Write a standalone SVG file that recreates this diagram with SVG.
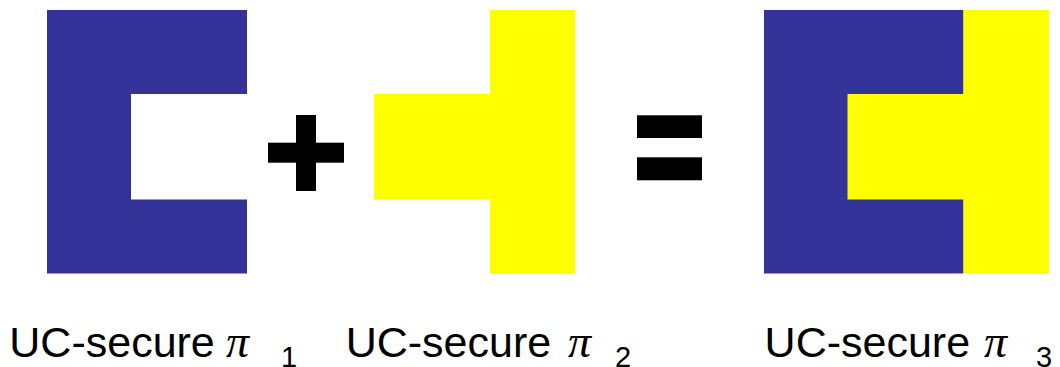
<svg xmlns="http://www.w3.org/2000/svg" width="1060" height="367" viewBox="0 0 1060 367">
<style>
.blue{fill:#333399}
.yel{fill:#ffff00}
.blk{fill:#000000}
.lbl{font-family:"Liberation Sans",Arial,sans-serif;font-size:43px;fill:#000}
.pi{font-family:"Liberation Serif","Times New Roman",serif;font-style:italic;font-size:46px}
.sub{font-family:"Liberation Sans",Arial,sans-serif;font-size:29px}
</style>
<rect width="1060" height="367" fill="#ffffff"/>
<g id="protocol1">
<path class="blue" d="M47,10 H247 V94 H131 V199.5 H247 V273.5 H47 Z"/>
</g>
<g id="plus">
<rect class="blk" x="296" y="115" width="20" height="76"/>
<rect class="blk" x="268" y="142.7" width="76" height="20"/>
</g>
<g id="protocol2">
<path class="yel" d="M490,10 H575 V273.5 H490 V199.5 H374 V94 H490 Z"/>
</g>
<g id="equals">
<rect class="blk" x="637" y="115.3" width="65" height="22.7"/>
<rect class="blk" x="637" y="157.3" width="65" height="23"/>
</g>
<g id="protocol3">
<rect class="blue" x="764" y="10" width="199.5" height="263.5"/>
<path class="yel" d="M963.5,10 H1049 V273.5 H963.5 V199.5 H847.5 V94 H963.5 Z"/>
</g>
<g id="labels">
<text class="lbl" x="9.3" y="356.5">UC-secure<tspan class="pi" x="226">π</tspan><tspan class="sub" x="281" y="367">1</tspan></text>
<text class="lbl" x="345.7" y="356.5">UC-secure<tspan class="pi" x="568">π</tspan><tspan class="sub" x="615" y="367">2</tspan></text>
<text class="lbl" x="764.6" y="356.5">UC-secure<tspan class="pi" x="984">π</tspan><tspan class="sub" x="1036" y="367">3</tspan></text>
</g>
</svg>
